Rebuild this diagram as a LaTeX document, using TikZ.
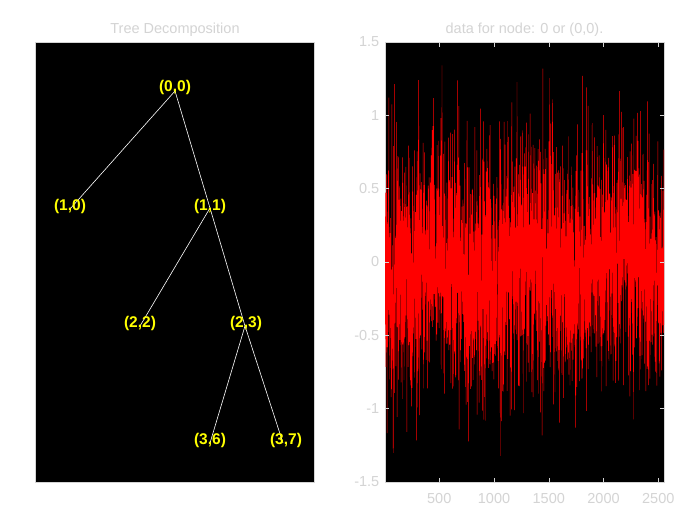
\documentclass[tikz,border=0pt]{standalone}
\usepackage{fontspec}
\setmainfont{Liberation Sans}
\definecolor{axgray}{RGB}{212,212,212}
\definecolor{lblyellow}{RGB}{255,255,0}
\tikzset{
  panel/.style={fill=black, draw=axgray, line width=0.5pt},
  treelabel/.style={text=lblyellow, font=\fontsize{15.5}{17}\selectfont\bfseries, inner sep=0pt},
  edge/.style={draw=white, line width=0.6pt},
  ttl/.style={text=axgray, font=\fontsize{14.5}{16}\selectfont, inner sep=0pt},
  ticklbl/.style={text=axgray, font=\fontsize{14.5}{16}\selectfont, inner sep=0pt},
  tickmark/.style={draw=axgray, line width=0.5pt},
  sig/.style={draw=red, line width=0.45pt}
}
\begin{document}
\begin{tikzpicture}[x=1pt, y=-1pt]
\useasboundingbox (0,0) rectangle (700,525);
\fill[white] (0,0) rectangle (700,525);
% ---------- left panel ----------
\draw[panel] (35.5,42.5) rectangle (314,482);
\node[ttl] (t1) at (175,30) {Tree Decomposition};
\coordinate (p00) at (175,91);
\coordinate (p10) at (70,209);
\coordinate (p11) at (210,208);
\coordinate (p22) at (140,326);
\coordinate (p23) at (245,326);
\coordinate (p36) at (210,443);
\coordinate (p37) at (283,443);
\draw[edge] (p00) -- (p10);
\draw[edge] (p00) -- (p11);
\draw[edge] (p11) -- (p22);
\draw[edge] (p11) -- (p23);
\draw[edge] (p23) -- (p36);
\draw[edge] (p23) -- (p37);
\node[treelabel] (n00) at (175,87) {(0,0)};
\node[treelabel] (n10) at (70,206) {(1,0)};
\node[treelabel] (n11) at (210,206) {(1,1)};
\node[treelabel] (n22) at (140,323) {(2,2)};
\node[treelabel] (n23) at (246,323) {(2,3)};
\node[treelabel] (n36) at (210,440) {(3,6)};
\node[treelabel] (n37) at (286,440) {(3,7)};
% ---------- right panel ----------
\draw[panel] (385,42.5) rectangle (664,482);
\node[ttl] (t2) at (524.5,30) {data for node: 0 or (0,0).};
\begin{scope}
\clip (385,42.5) rectangle (664,482);
\pgfmathsetseed{11}
\draw[sig] plot[domain=1:2552, samples=2552, variable=\t]
  ({384.5+\t*0.1095},
   {262-146.67*(0.1*sin(360*(\t/850)-103)+0.42*sqrt(-2*ln(0.002+0.996*rnd))*cos(360*rnd))});
\end{scope}
% y ticks
\foreach \v/\lab in {1.5/1.5, 1/1, 0.5/0.5, 0/0, -0.5/-0.5, -1/-1, -1.5/-1.5}{
  \pgfmathsetmacro{\yy}{262-146.67*\v}
  \draw[tickmark] (385,\yy) -- (389,\yy);
  \draw[tickmark] (664,\yy) -- (660,\yy);
  \node[ticklbl, anchor=east] at (379.5,\yy) {\lab};
}
% x ticks
\foreach \v in {500,1000,1500,2000,2500}{
  \pgfmathsetmacro{\xx}{384.5+\v*0.1095}
  \draw[tickmark] (\xx,482) -- (\xx,478);
  \draw[tickmark] (\xx,42.5) -- (\xx,46.5);
  \node[ticklbl] at (\xx,498) {\v};
}
\end{tikzpicture}
\end{document}
